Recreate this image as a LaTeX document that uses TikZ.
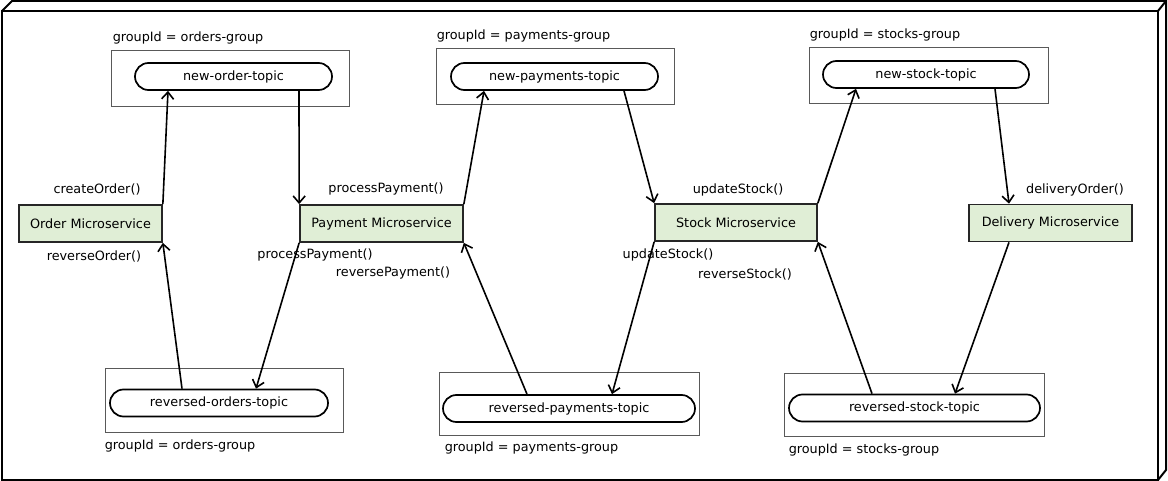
\documentclass[tikz,border=0pt]{standalone}
\usepackage{fontspec}
\setmainfont{DejaVu Sans}
\usetikzlibrary{arrows.meta,shapes.misc}
\definecolor{svcgreen}{RGB}{224,238,214}
\tikzset{
  service/.style={draw=black!85, line width=1.7pt, fill=svcgreen, minimum height=37pt, inner sep=0pt},
  topic/.style={draw, line width=1.7pt, rounded rectangle, minimum height=27pt, inner sep=0pt},
  group/.style={draw=black!65, line width=0.9pt, inner sep=0pt},
  lbl/.style={inner sep=0pt},
  msg/.style={line width=1.6pt, -{Straight Barb[length=7pt,width=12pt]}}
}
\begin{document}
\begin{tikzpicture}[x=1pt, y=-1pt, font=\fontsize{12.8}{15}\selectfont]
        \useasboundingbox (0,0) rectangle (1168,481);

        % outer node box
        \draw [line width=2pt] (2,11) rectangle (1158,480);
        \draw [line width=2pt] (2,11) -- (12,1) -- (1166,1) -- (1166,470) -- (1158,480);
        \draw [line width=2pt] (1166,1) -- (1158,11);

        % topic groups
        \node [group, minimum width=238pt, minimum height=56pt] (g1) at (230,78) {};
        \node [group, minimum width=238pt, minimum height=56pt] (g2) at (555,76) {};
        \node [group, minimum width=239pt, minimum height=56pt] (g3) at (928.5,75) {};
        \node [group, minimum width=238pt, minimum height=64pt] (g4) at (224,400) {};
        \node [group, minimum width=260pt, minimum height=63pt] (g5) at (569,403.5) {};
        \node [group, minimum width=260pt, minimum height=63pt] (g6) at (914,404.5) {};

        \node [lbl, anchor=base west] at ([xshift=2pt, yshift=8pt]g1.north west) {groupId = orders-group};
        \node [lbl, anchor=base west] at ([xshift=1pt, yshift=8pt]g2.north west) {groupId = payments-group};
        \node [lbl, anchor=base west] at ([xshift=1pt, yshift=8pt]g3.north west) {groupId = stocks-group};
        \node [lbl, anchor=base west] at ([xshift=0pt, yshift=-17pt]g4.south west) {groupId = orders-group};
        \node [lbl, anchor=base west] at ([xshift=6pt, yshift=-16pt]g5.south west) {groupId = payments-group};
        \node [lbl, anchor=base west] at ([xshift=5pt, yshift=-17pt]g6.south west) {groupId = stocks-group};

        % topics
        \node [topic, minimum width=197pt] (t1) at (233.5,76.5) {new-order-topic};
        \node [topic, minimum width=207pt] (t2) at (554.5,76.5) {new-payments-topic};
        \node [topic, minimum width=206pt] (t3) at (926,74.5) {new-stock-topic};
        \node [topic, minimum width=218pt] (t4) at (219,403) {reversed-orders-topic};
        \node [topic, minimum width=252pt] (t5) at (569,408.5) {reversed-payments-topic};
        \node [topic, minimum width=251pt] (t6) at (914.5,408) {reversed-stock-topic};

        % microservices
        \node [service, minimum width=143pt] (order) at (90.5,223.5) {Order Microservice};
        \node [service, minimum width=163pt] (payment) at (381.5,223.5) {Payment Microservice};
        \node [service, minimum width=162pt] (stock) at (736,222.5) {Stock Microservice};
        \node [service, minimum width=163pt] (delivery) at (1050.5,223) {Delivery Microservice};

        % method labels
        \node [lbl] (createorder) at (97,189) {createOrder()};
        \node [lbl] (reverseorder) at (94,256) {reverseOrder()};
        \node [lbl] (processtop) at (386,189) {processPayment()};
        \node [lbl] (processbot) at (315,255) {processPayment()};
        \node [lbl] (reversepay) at (393,273) {reversePayment()};
        \node [lbl] (updatetop) at (738,190) {updateStock()};
        \node [lbl] (updatebot) at (668,255) {updateStock()};
        \node [lbl] (reversestock) at (745,274) {reverseStock()};
        \node [lbl] (deliver) at (1075,190) {deliveryOrder()};

        % messages
        \draw [msg] (order.north east) -- ([xshift=-65.5pt]t1.south);
        \draw [msg] ([xshift=65.5pt]t1.south) -- (payment.north west);
        \draw [msg] (payment.north east) -- ([xshift=-70.5pt]t2.south);
        \draw [msg] ([xshift=69.5pt]t2.south) -- (stock.north west);
        \draw [msg] (stock.north east) -- ([xshift=-70pt]t3.south);
        \draw [msg] ([xshift=69pt]t3.south) -- ([xshift=-41.5pt]delivery.north);
        \draw [msg] ([xshift=-41.5pt]delivery.south) -- ([xshift=40.5pt]t6.north);
        \draw [msg] ([xshift=-42.5pt]t6.north) -- (stock.south east);
        \draw [msg] (stock.south west) -- ([xshift=43pt]t5.north);
        \draw [msg] ([xshift=-42pt]t5.north) -- (payment.south east);
        \draw [msg] (payment.south west) -- ([xshift=37pt]t4.north);
        \draw [msg] ([xshift=-37pt]t4.north) -- (order.south east);
\end{tikzpicture}
\end{document}
